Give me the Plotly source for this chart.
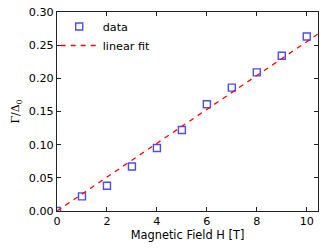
import plotly.graph_objects as go

field = [0, 1, 2, 3, 4, 5, 6, 7, 8, 9, 10]
gamma = [0.0, 0.022, 0.038, 0.067, 0.095, 0.122, 0.161, 0.186, 0.209, 0.234, 0.263]
fit_x = [0, 10.5]
fit_y = [0.0, 0.268]

fig = go.Figure()
fig.add_trace(go.Scatter(
    x=field, y=gamma, mode="markers", name="data",
    marker=dict(symbol="square-open", size=7, color="rgba(30,30,255,0.8)",
                line=dict(width=1.4, color="rgba(30,30,255,0.8)")),
    cliponaxis=True,
))
fig.add_trace(go.Scatter(
    x=fit_x, y=fit_y, mode="lines", name="linear fit",
    line=dict(color="red", width=1.3, dash="5px,5px"),
))

axis_common = dict(
    showline=True, linecolor="#222", linewidth=1, mirror="ticks",
    ticks="inside", ticklen=4, tickcolor="#222", showgrid=False, zeroline=False,
    automargin=False,
    tickfont=dict(family="DejaVu Sans", size=11.2, color="black"),
)
fig.update_layout(
    width=332, height=249,
    margin=dict(l=57, r=14, t=12, b=38, autoexpand=False),
    paper_bgcolor="white", plot_bgcolor="white",
    font=dict(family="DejaVu Sans", size=11.2, color="black"),
    xaxis=dict(range=[0, 10.45], tickvals=[0, 2, 4, 6, 8, 10],
               title=dict(text="Magnetic Field H [T]", standoff=2,
                          font=dict(size=11.4)), **axis_common),
    yaxis=dict(range=[0, 0.30], tickvals=[0, 0.05, 0.10, 0.15, 0.20, 0.25, 0.30],
               tickformat=".2f",
               title=dict(text="Γ/Δ<sub>0</sub>", standoff=6,
                          font=dict(family="DejaVu Serif", size=11)), **axis_common),
    legend=dict(x=-0.005, y=1.0, xanchor="left", yanchor="top",
                bgcolor="rgba(0,0,0,0)", font=dict(size=11.2),
                itemwidth=37, tracegroupgap=0),
    showlegend=True,
)

fig.write_html("out.html", config={"displayModeBar": False},
               post_script="document.body.style.margin='0';document.body.style.overflow='hidden';")
